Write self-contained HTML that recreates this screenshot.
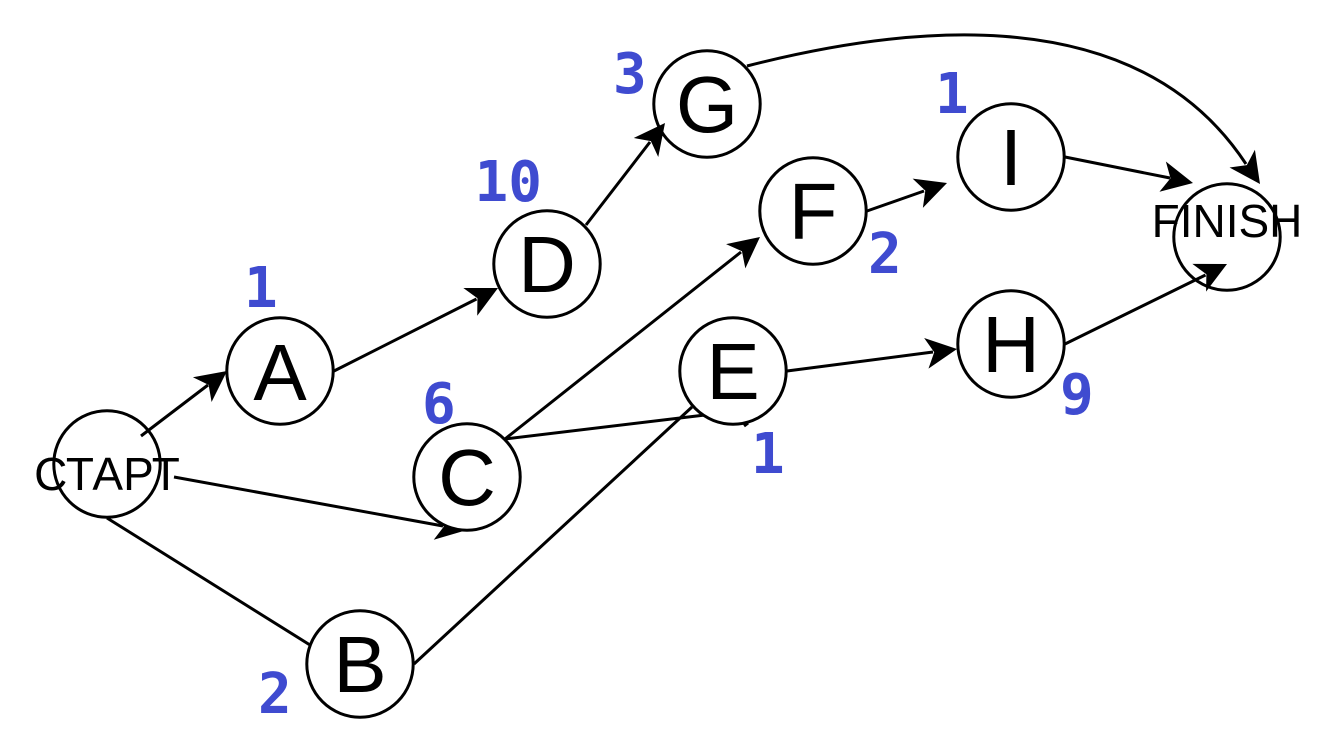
<!DOCTYPE html>
<html><head><meta charset="utf-8"><style>
html,body{margin:0;padding:0;background:#fff}
svg{display:block}
.l{font-family:"Liberation Sans",Arial,sans-serif;fill:#000;text-anchor:middle;font-size:80px}
.s{font-family:"Liberation Sans",Arial,sans-serif;fill:#000;text-anchor:middle;font-size:46px}
.n{font-family:"DejaVu Sans Mono",monospace;font-weight:bold;fill:#3f4bd0;font-size:56px}
</style></head><body>
<svg width="1333" height="743" viewBox="0 0 1333 743" xmlns="http://www.w3.org/2000/svg">
<defs><polygon id="a" points="0,0 -31,-15.5 -23,0 -31,15.5" fill="#000"/></defs>
<g fill="none" stroke="#000" stroke-width="3">
<line x1="174" y1="477" x2="443" y2="526"/>
<line x1="107" y1="518" x2="310" y2="645"/>
<line x1="414" y1="664" x2="692" y2="407"/>
<line x1="505" y1="439" x2="705" y2="415"/>
<line x1="505" y1="439" x2="741" y2="252"/>
<line x1="334" y1="371" x2="476.5" y2="299"/>
<line x1="586" y1="225" x2="650" y2="142"/>
<line x1="787" y1="371" x2="933" y2="352"/>
<line x1="867" y1="211" x2="924" y2="191"/>
<line x1="1065" y1="157" x2="1170" y2="178"/>
<path d="M747 66C880 32 1130 -12 1246 164"/>
<line x1="744" y1="426" x2="748" y2="423"/>
</g>
<use href="#a" transform="translate(467 530) rotate(10.25)"/>
<g fill="#fff" stroke="#000" stroke-width="3">
<circle cx="107" cy="464" r="53.2"/>
<circle cx="280" cy="371" r="53.2"/>
<circle cx="360" cy="664" r="53.2"/>
<circle cx="467" cy="477" r="53.2"/>
<circle cx="547" cy="264" r="53.2"/>
<circle cx="733" cy="371" r="53.2"/>
<circle cx="813" cy="211" r="53.2"/>
<circle cx="707" cy="104" r="53.2"/>
<circle cx="1011" cy="344" r="53.2"/>
<circle cx="1011" cy="157" r="53.2"/>
<circle cx="1227" cy="237" r="53.2"/>
</g>
<g stroke="#000" stroke-width="3">
<line x1="141" y1="436" x2="208" y2="385"/>
<line x1="1065" y1="344" x2="1205.5" y2="275"/>
</g>
<use href="#a" transform="translate(227 371) rotate(-37)"/>
<use href="#a" transform="translate(498 288) rotate(-26.6)"/>
<use href="#a" transform="translate(665 123) rotate(-52.2)"/>
<use href="#a" transform="translate(760 237) rotate(-38.4)"/>
<use href="#a" transform="translate(957 349) rotate(-8)"/>
<use href="#a" transform="translate(947 183) rotate(-19.3)"/>
<use href="#a" transform="translate(1193 183) rotate(11.9)"/>
<use href="#a" transform="translate(1260 184) rotate(55)"/>
<use href="#a" transform="translate(1227 264) rotate(-26.3)"/>
<text class="s" x="107" y="490">СТАРТ</text>
<text class="s" x="1227" y="237">FINISH</text>
<text class="l" x="280" y="400">A</text>
<text class="l" x="360" y="692">B</text>
<text class="l" x="467" y="505">C</text>
<text class="l" x="547" y="292">D</text>
<text class="l" x="733" y="399">E</text>
<text class="l" x="813" y="239">F</text>
<text class="l" x="707" y="132">G</text>
<text class="l" x="1011" y="372">H</text>
<text class="l" x="1011" y="185">I</text>
<text class="n" x="244" y="307">1</text>
<text class="n" x="258" y="713">2</text>
<text class="n" x="422" y="423">6</text>
<text class="n" x="474.5" y="201">10</text>
<text class="n" x="751" y="473">1</text>
<text class="n" x="868" y="273">2</text>
<text class="n" x="613" y="93">3</text>
<text class="n" x="1060" y="414">9</text>
<text class="n" x="935" y="113">1</text>
</svg>
</body></html>
